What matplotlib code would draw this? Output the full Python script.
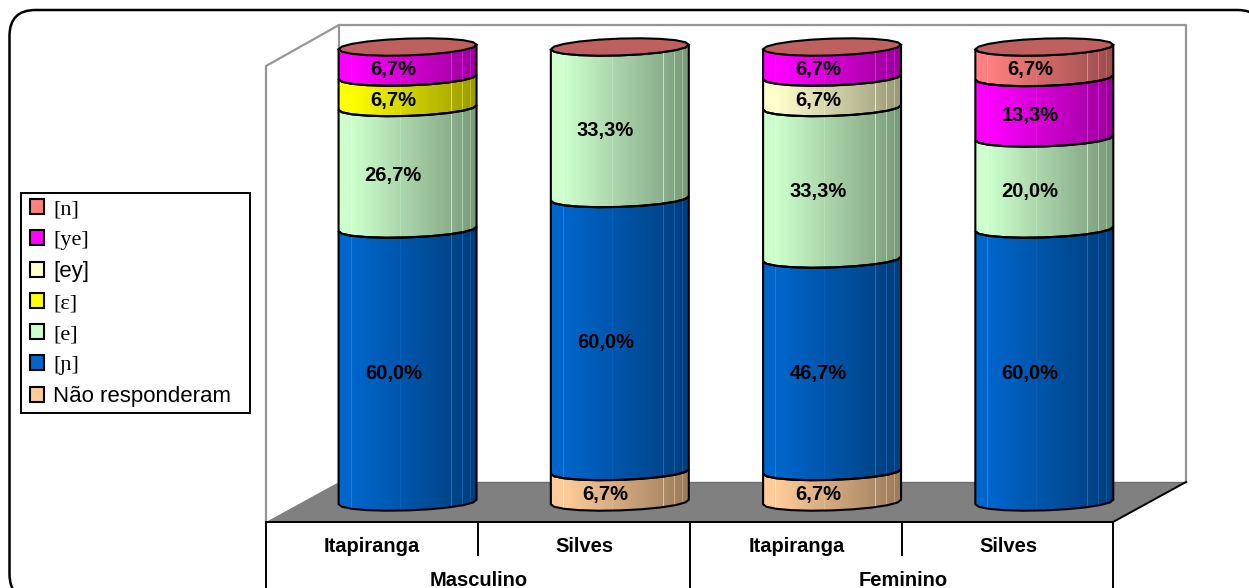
#!/usr/bin/python
# -*- coding: utf-8 -*-
# stacked 3D style cylinders, answers by gender and town

import numpy as np
import matplotlib
matplotlib.use('Agg')
from matplotlib import pyplot as plt
from matplotlib.colors import to_rgb
from matplotlib.legend_handler import HandlerPatch
from matplotlib.patches import FancyBboxPatch, Patch, Polygon

groups = ['Masculino', 'Feminino']
sites = ['Itapiranga', 'Silves', 'Itapiranga', 'Silves']

# stacking order, bottom to top
series_names = ['Não responderam', '[ɲ]', '[e]', '[ɛ]', '[ey]', '[ye]', '[n]']
series_colors = ['#FFCC99', '#0066CC', '#CCFFCC', '#FFFF00', '#FFFFCC', '#FF00FF', '#FF8080']

nao_responderam = [0.0, 6.7, 6.7, 0.0]
nh = [60.0, 60.0, 46.7, 60.0]
e_closed = [26.7, 33.3, 33.3, 20.0]
e_open = [6.7, 0.0, 0.0, 0.0]
ey = [0.0, 0.0, 6.7, 0.0]
ye = [6.7, 0.0, 6.7, 13.3]
n_plain = [0.0, 0.0, 0.0, 6.7]

series_values = [nao_responderam, nh, e_closed, e_open, ey, ye, n_plain]

W, H = 1249, 588
dpi = 100

# plot box in pixels, measured from the top left corner
left, right = 266, 1115
y_bottom, y_top = 502, 47

# cylinder shape, in axis units
x_offset = 0.167
half_w = 0.325
rim_h = 1.85
rim_tilt = 0.5

# brightness across the cylinder, with the pale facet lines
n_cols = 137
shade = np.interp(np.linspace(0, 1, n_cols), [0, 0.1, 1], [1.0, 1.0, 0.6])
facets = np.ones(n_cols)
for pos, gain in [(0.095, 1.12), (0.45, 1.04), (0.82, 1.2), (0.9, 1.15), (0.96, 1.12)]:
    facets[int(pos * (n_cols - 1))] = gain


def rim(center, level, front=True):
    # faceted lower (or upper) half of a tilted ellipse
    t = np.linspace(0, np.pi, 11)
    x = np.cos(t)
    y = -np.sin(t) if front else np.sin(t)
    return np.column_stack((center + half_w * x, level + rim_h * y + rim_tilt * x))


def draw_segment(ax, center, low, high, color):
    outline = np.vstack((rim(center, low), rim(center, high)[::-1]))
    poly = Polygon(outline, closed=True, facecolor='none', edgecolor='none', zorder=3, clip_on=False)
    ax.add_patch(poly)
    rgb = np.array(to_rgb(color))
    img = np.clip(rgb[None, None, :] * shade[None, :, None] * facets[None, :, None]
                  + (facets[None, :, None] - 1) * 0.5, 0, 1)
    im = ax.imshow(img, extent=(center - half_w, center + half_w, low - 5, high + 5),
                   aspect='auto', interpolation='nearest', zorder=3)
    im.set_clip_box(fig.bbox)
    im.set_clip_path(poly)
    ax.add_patch(Polygon(outline, closed=True, facecolor='none', edgecolor='black',
                         linewidth=1.5, zorder=4, clip_on=False))


fig = plt.figure(figsize=(W / dpi, H / dpi), dpi=dpi)
plt.rcParams['font.family'] = ['Liberation Sans', 'DejaVu Sans']

# background layer in pixels: frame, walls, floor and table rules
bg = fig.add_axes([0, 0, 1, 1], zorder=0)
bg.set_xlim(0, W)
bg.set_ylim(H, 0)
bg.axis('off')

bg.add_patch(FancyBboxPatch((9.5, 10), 1254, 590, boxstyle='round,pad=0,rounding_size=26',
                            facecolor='white', edgecolor='black', linewidth=1.8, clip_on=False))
wall_color = '#969696'
bg.plot([266, 266, 339, 1186, 1186], [522, 66, 25, 25, 482], color=wall_color, lw=1.6)
bg.plot([339, 339], [25, 482], color=wall_color, lw=1.6)
bg.add_patch(Polygon([(266, 522), (339, 482), (1186, 482), (1113, 522)], closed=True,
                     facecolor='#808080', edgecolor='none'))
bg.plot([339, 1186], [482, 482], color='#707070', lw=1)
bg.plot([266, 1113, 1186], [522, 522, 482], color='black', lw=1.4)
for px, end in [(266, 588), (478, 555), (690, 588), (902, 555), (1113, 588)]:
    bg.plot([px, px], [522, end], color='black', lw=1.4)

# cylinders, on the category and percent scales
ax = fig.add_axes([left / W, 1 - y_bottom / H, (right - left) / W, (y_bottom - y_top) / H], zorder=1)
ax.patch.set_visible(False)
for side in ax.spines.values():
    side.set_visible(False)

positions = np.arange(len(sites))
for i in positions:
    center = i + x_offset
    base = 0.0
    for values, color in zip(series_values, series_colors):
        v = values[i]
        if v > 0:
            draw_segment(ax, center, base, base + v, color)
            ax.text(i + 0.1, base + v / 2 - 1.7, ('%.1f%%' % v).replace('.', ','),
                    ha='center', va='center', fontsize=14.5, fontweight='bold', zorder=5,
                    clip_on=False)
        base += v
    # closing cap takes the colour of the last series, darkened
    cap = np.vstack((rim(center, 100.0), rim(center, 100.0, front=False)[::-1]))
    ax.add_patch(Polygon(cap, closed=True, facecolor=np.array(to_rgb(series_colors[-1])) * 0.75,
                         edgecolor='black', linewidth=1.5, zorder=4, clip_on=False))

ax.set_xlim(-0.5, 3.5)
ax.set_ylim(0, 100)
ax.set_yticks([])
ax.set_xticks(positions, labels=sites, fontsize=14.5, fontweight='bold')
ax.tick_params(axis='x', length=0, pad=25.5)
trans = ax.get_xaxis_transform()
for center, label in zip([0.5, 2.5], groups):
    ax.text(center, -0.172, label, transform=trans, ha='center', va='center',
            fontsize=14.5, fontweight='bold', clip_on=False)

# legend, last series on top; box stretched to a fixed width
handles = [Patch(facecolor=c, edgecolor='black', linewidth=1.5) for c in series_colors[::-1]]
leg = ax.legend(handles, series_names[::-1], loc='upper left',
                bbox_to_anchor=(21 / W, 1 - 412 / H, 229 / W, 219 / H), bbox_transform=fig.transFigure,
                mode='expand', frameon=True, fancybox=False, framealpha=1, edgecolor='black',
                fontsize=16, handlelength=0.78, handleheight=0.65, handletextpad=0.4,
                labelspacing=0.49, borderpad=0.26, borderaxespad=0,
                handler_map={Patch: HandlerPatch(xpad=0.15)})
leg.get_frame().set_linewidth(1.4)
for txt in leg.get_texts():
    if txt.get_text() not in ('[ey]', 'Não responderam'):
        txt.set_family(['Liberation Serif', 'DejaVu Serif'])

fig.savefig('out.png', dpi=dpi, facecolor='white')
plt.close(fig)
